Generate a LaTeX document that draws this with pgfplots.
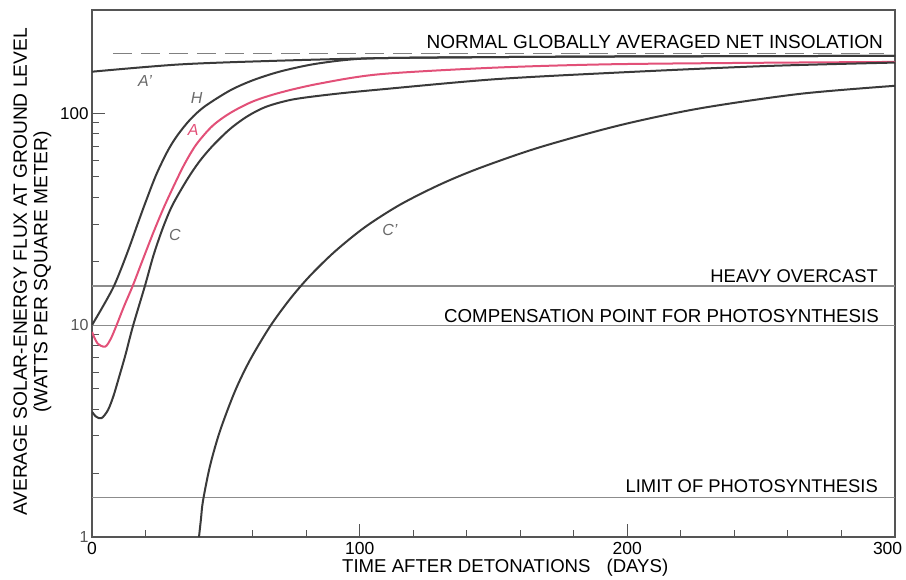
\documentclass[border=0pt]{standalone}
\usepackage{fontspec}
\setmainfont{Liberation Sans}
\usepackage{pgfplots}
\pgfplotsset{compat=1.18}
\definecolor{curvec}{HTML}{3A3A3A}
\definecolor{pinkc}{RGB}{226,80,120}
\definecolor{axisc}{HTML}{555555}
\definecolor{refc}{HTML}{8C8C8C}
\definecolor{labc}{HTML}{6A6A6A}
\newcommand{\fs}[1]{\fontsize{#1}{#1}\selectfont}
\begin{document}
\begin{tikzpicture}[x=1pt,y=1pt]
\begin{axis}[
  at={(0,0)}, anchor=south west,
  scale only axis, width=803pt, height=527pt,
  xmin=0, xmax=300, ymode=log, ymin=1, ymax=307,
  xtick={0,100,200,300},
  xticklabels={0,100,200,{\rlap{\hspace{-22pt}300}}},
  minor xtick={20,40,60,80,120,140,160,180,220,240,260,280},
  ytick={1,10,100},
  yticklabels={{\textcolor{axisc}{\fs{16}1}},{\textcolor{axisc}{\fs{16}10}},{\fs{17}100}},
  xtick pos=lower, ytick pos=left,
  tick align=inside,
  major tick length=13pt, minor tick length=7pt,
  every tick/.style={axisc, line width=1pt},
  axis line style={axisc, line width=1.5pt},
  xticklabel style={font=\fs{17.5}, yshift=-2pt},
  /pgf/number format/assume math mode=true,
]
% reference lines
\addplot[refc, line width=1.2pt] coordinates {(0,15.3) (300,15.3)};
\addplot[refc, line width=1.2pt] coordinates {(0,10) (300,10)};
\addplot[refc, line width=1.2pt] coordinates {(0,1.54) (300,1.54)};
\addplot[gray, line width=1.2pt, dash pattern=on 19pt off 9pt] coordinates {(7.8,192) (296,192)};
% A'
\addplot[curvec, line width=2pt, smooth] coordinates {
 (0,157) (33,170) (70,177) (108,182) (150,184) (193.5,185.2) (250,186) (300,186.5)};
% H
\addplot[curvec, line width=2pt, smooth] coordinates {
 (0,10) (4,12.2) (8,15.1) (11,18.6) (14,23.4) (17,29.9) (20,38.0) (24,51.3) (28.4,66.8)
 (32,78.9) (36.6,93.1) (42,107.4) (51.5,127.9) (60,142.9) (70,157) (82,169.7) (95,178.5)
 (108,182) (150,184) (193.5,185.2) (250,186) (300,186.5)};
% A (pink)
\addplot[pinkc, line width=2pt, smooth] coordinates {
 (0,9.29) (2,8.22) (4.9,7.91) (7,8.61) (9.2,10) (12,12.3) (15.2,15.3) (19,20.4) (23,27.5) (27,36.3)
 (31.6,48.4) (35,58.9) (39.1,71.6) (45,87.1) (51.5,100) (60,113.5) (70.2,125) (85,138) (107.6,152.8)
 (150,164) (193.5,170.2) (250,173) (300,174.6)};
% C
\addplot[curvec, line width=2pt, smooth] coordinates {
 (0,3.90) (1.5,3.70) (3.6,3.64) (6,3.98) (8,4.62) (10,5.62) (12.5,7.24) (15.3,9.89) (19.8,15.35)
 (23,21.4) (26.5,28.8) (30,36.7) (35.4,48.3) (40,58.9) (45,70.0) (51.5,84.1) (58,96.6) (65,107.2)
 (75,116.1) (90,123) (107.6,129.4) (150,144.5) (193.5,154.9) (250,166.7) (300,173.4)};
% C'
\addplot[curvec, line width=2pt, smooth] coordinates {
 (39.97,1.000) (40.71,1.216) (41.46,1.479) (44.08,2.163) (47.82,3.166) (53.42,4.877) (59.02,6.839)
 (66.49,9.844) (73.96,13.27) (81.43,17.08) (90.77,22.27) (101.98,29.00) (115.05,36.99) (130.00,46.07)
 (144.94,55.19) (167.35,69.11) (197.24,87.78) (227.12,105.4) (264.48,123.4) (299.96,134.7)};
\end{axis}
% reference line labels
\node[anchor=base east, inner sep=0, font=\fs{19}] at (791,488.5) {NORMAL GLOBALLY AVERAGED NET INSOLATION};
\node[anchor=base east, inner sep=0, font=\fs{18.4}] at (786,254) {HEAVY OVERCAST};
\node[anchor=base east, inner sep=0, font=\fs{18.7}] at (787,214) {COMPENSATION POINT FOR PHOTOSYNTHESIS};
\node[anchor=base east, inner sep=0, font=\fs{18.4}] at (786,44) {LIMIT OF PHOTOSYNTHESIS};
% curve labels
\node[font=\fs{16}\itshape, text=labc] at (53,456) {A'};
\node[font=\fs{16}\itshape, text=labc] at (104.7,438.7) {H};
\node[font=\fs{16}\itshape, text=pinkc] at (101.3,407) {A};
\node[font=\fs{16}\itshape, text=labc] at (83,302) {C};
\node[font=\fs{16}\itshape, text=labc] at (298,307) {C'};
% axis labels
\node[anchor=base west, inner sep=0, font=\fs{18.6}] at (250,-36) {TIME AFTER DETONATIONS\hspace{16pt}(DAYS)};
\node[rotate=90, align=center, inner sep=0, font=\fontsize{19.2}{20.5}\selectfont] at (-59.5,265)
  {AVERAGE SOLAR-ENERGY FLUX AT GROUND LEVEL\\(WATTS PER SQUARE METER)};
\pgfresetboundingbox
\useasboundingbox (-92,-43) rectangle (814,537);
\end{tikzpicture}
\end{document}
